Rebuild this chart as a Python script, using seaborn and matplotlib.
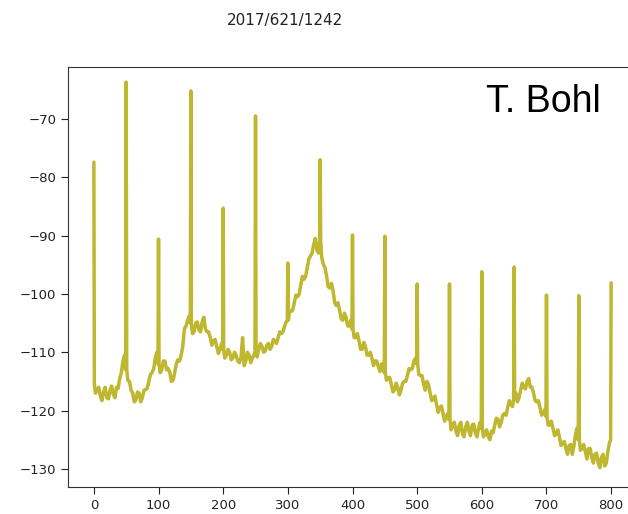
import seaborn as sns
import matplotlib.pyplot as plt
import numpy as np
import pandas as pd

# baseline of the spectrum, read every 5 units from 0 to 800
base_x = list(range(0, 801, 5))
base_y = [
    -115.5, -116.5, -117.5, -116.8, -117.8, -116.5, -117.2, -116.0, -114.5, -111.5,
    -113.0, -115.0, -117.0, -118.2, -117.0, -117.8, -116.4, -115.0, -113.5, -111.0,
    -112.0, -113.0, -111.5, -112.8, -115.0, -113.5, -111.3, -110.5, -106.0, -104.5,
    -105.0, -106.5, -104.8, -106.5, -104.0, -106.5, -107.5, -108.0, -109.0, -109.5,
    -109.5, -110.5, -110.0, -111.0, -110.5, -111.8, -107.5, -111.5, -110.5, -111.0,
    -110.0, -109.5, -109.0, -109.8, -108.5, -109.0, -108.0, -107.5, -106.8, -105.5,
    -104.5, -103.0, -101.5, -100.5, -98.5, -97.5, -95.5, -93.5, -91.5, -92.5,
    -91.0, -95.0, -97.0, -99.0, -99.5, -102.0, -102.8, -104.5, -104.0, -105.5,
    -106.0, -107.5, -108.0, -109.5, -109.0, -110.5, -111.0, -111.5, -112.5, -112.0,
    -113.5, -114.5, -115.5, -116.5, -116.0, -116.5, -115.0, -114.0, -113.0, -111.5,
    -112.0, -114.0, -115.5, -115.0, -117.0, -118.0, -119.0, -119.5, -120.5, -121.0,
    -121.5, -122.5, -123.5, -122.5, -124.0, -122.8, -123.5, -122.5, -123.8, -123.0,
    -123.0, -124.0, -124.5, -123.5, -122.5, -121.5, -122.0, -120.5, -119.5, -119.0,
    -118.0, -118.5, -116.5, -116.0, -115.0, -116.0, -117.0, -118.5, -119.5, -120.5,
    -121.0, -122.5, -123.0, -124.0, -124.5, -125.5, -126.5, -126.0, -127.5, -124.0,
    -125.0, -126.5, -127.0, -126.5, -128.0, -127.5, -129.0, -128.0, -129.5, -127.0,
    -125.0,
]

# in-between readings at 2.5, 7.5, ..., 797.5 (the jagged texture)
mid_x = [x + 2.5 for x in range(0, 800, 5)]
mid_y = [
    -117.0, -116.0, -118.3, -116.0, -118.0, -115.8, -117.8, -116.2, -113.5, -110.5,
    -114.8, -116.5, -118.5, -116.8, -118.5, -116.5, -116.2, -113.8, -112.8, -110.0,
    -113.5, -111.5, -113.0, -113.5, -114.8, -112.0, -111.5, -109.0, -105.5, -103.8,
    -106.8, -105.0, -106.2, -104.8, -106.0, -106.5, -108.8, -107.8, -110.2, -108.5,
    -111.0, -109.5, -111.3, -110.0, -111.5, -111.0, -112.3, -110.0, -111.8, -110.5,
    -110.8, -108.5, -110.0, -108.8, -109.5, -107.8, -108.5, -106.5, -106.5, -104.8,
    -102.8, -102.8, -100.2, -100.0, -97.0, -97.0, -94.0, -93.0, -90.5, -93.0,
    -93.8, -95.5, -98.8, -98.2, -101.5, -101.5, -104.3, -103.3, -105.5, -104.5,
    -107.5, -106.8, -109.5, -108.3, -110.5, -110.0, -112.3, -111.5, -113.3, -112.0,
    -114.8, -114.3, -116.8, -115.3, -117.3, -115.3, -115.0, -112.8, -112.8, -111.0,
    -113.8, -114.0, -116.5, -115.5, -118.3, -117.5, -120.3, -119.2, -121.8, -120.5,
    -123.3, -122.0, -124.3, -122.0, -124.5, -122.0, -124.3, -122.3, -124.5, -122.0,
    -124.5, -123.3, -125.0, -123.8, -121.3, -122.8, -120.8, -120.8, -118.3, -119.3,
    -117.0, -117.8, -115.3, -116.3, -114.5, -116.0, -118.3, -118.3, -120.8, -119.8,
    -122.5, -121.8, -124.3, -123.3, -126.0, -125.3, -127.5, -125.8, -126.0, -123.0,
    -126.8, -125.8, -128.3, -126.5, -129.0, -127.3, -129.8, -127.5, -129.0, -125.5,
]

# narrow peaks every 50 units
spike_x = [0, 50, 100, 150, 200, 250, 300, 350, 400, 450, 500, 550, 600, 650, 700, 750, 800]
spike_y = [-77.4, -63.7, -90.6, -65.2, -85.3, -69.5, -94.7, -77.0, -89.9, -90.1,
           -98.3, -98.3, -96.2, -95.4, -100.2, -100.3, -98.1]

title = "2017/621/1242"
author = "T. Bohl"

# build the series: baseline + in-between points, each peak as foot / top / foot
pts = list(zip(mid_x, mid_y))
peaks = dict(zip(spike_x, spike_y))
for x, y in zip(base_x, base_y):
    if x in peaks:
        if x > 0:
            pts.append((x - 0.8, y))
        pts.append((x, peaks[x]))
        if x < 800:
            pts.append((x + 0.8, y))
    else:
        pts.append((x, y))
pts.sort()
df = pd.DataFrame(pts, columns=["x", "y"])

sns.set_style("ticks")
fig = plt.figure(figsize=(6.28, 5.14), dpi=100)
ax = fig.add_axes([68 / 628, 27 / 514, (637 - 68) / 628, 420 / 514])

sns.lineplot(data=df, x="x", y="y", ax=ax, estimator=None, sort=False,
             color="#bfb72f", linewidth=2.5)

ax.set_xlim(-40, 840)
ax.set_ylim(-133.1, -61.1)
ax.set_xticks([0, 100, 200, 300, 400, 500, 600, 700, 800])
ax.set_yticks([-130, -120, -110, -100, -90, -80, -70])
ax.set_xlabel("")
ax.set_ylabel("")
ax.tick_params(labelsize=9.5, colors="#222222", length=5)
for s in ax.spines.values():
    s.set_color("#333333")
ax.spines["right"].set_visible(False)

fig.text(285 / 628, 1 - 20 / 514, title, ha="center", va="center", fontsize=11,
         color="#222222")
fig.text(601 / 628, 1 - 112 / 514, author, ha="right", va="baseline",
         fontsize=27, family="Liberation Sans", color="black")

fig.savefig("out.png", dpi=100)
